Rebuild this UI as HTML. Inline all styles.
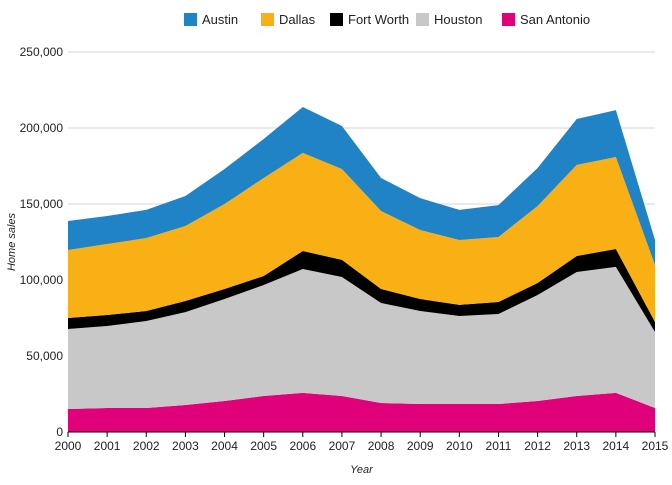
<!DOCTYPE html>
<html><head><meta charset="utf-8"><style>
body{margin:0;background:#fff;font-family:"Liberation Sans",sans-serif;}
svg text{font-family:"Liberation Sans",sans-serif;}
</style></head><body>
<svg id="chart" width="672" height="480"></svg>
<script>
const years=[2000,2001,2002,2003,2004,2005,2006,2007,2008,2009,2010,2011,2012,2013,2014,2015];
const seriesNames=["San Antonio","Houston","Fort Worth","Dallas","Austin"];
const sanAntonio=[15100,15800,15800,17800,20400,23700,25700,23700,19100,18400,18400,18400,20400,23700,25700,15800];
const houston=[52700,53900,57200,61100,67100,73000,81500,78300,65800,61200,57900,59200,69700,81600,82900,50000];
const fortWorth=[7200,7300,6600,7300,6600,5900,11900,11200,9200,7900,7300,7900,7900,10500,11800,6600];
const dallas=[44700,46700,48000,49300,55900,64500,64500,59800,51300,45400,42700,42800,50700,59900,60500,37500];
const austin=[19100,18400,18500,19800,23000,25700,30200,28300,21700,21000,19800,21000,25000,30200,30900,16400];
const yTicks=[0,50000,100000,150000,200000,250000];
const legendNames=["Austin","Dallas","Fort Worth","Houston","San Antonio"];
const colors={"Austin":"#1f83c6","Dallas":"#f9b014","Fort Worth":"#000000","Houston":"#c8c8c8","San Antonio":"#e0007a"};

const NS="http://www.w3.org/2000/svg";
const svg=document.getElementById('chart');
const L=68,R=655,T=52,B=432,YMAX=250000;
const x=i=>L+(years[i]-years[0])/(years[years.length-1]-years[0])*(R-L);
const y=v=>B-v/YMAX*(B-T);
function el(tag,attrs,parent){const e=document.createElementNS(NS,tag);for(const k in attrs)e.setAttribute(k,attrs[k]);(parent||svg).appendChild(e);return e;}

yTicks.forEach(t=>{
  const g=el('line',{x1:L,x2:R,y1:y(t),y2:y(t),stroke:'#d6d6d6','stroke-width':1});
  
  
  const lb=el('text',{x:L-5,y:y(t)+4,'text-anchor':'end','font-size':12,fill:'#222'});
  lb.textContent=t.toLocaleString('en-US');
  
  
});

const data=[sanAntonio,houston,fortWorth,dallas,austin];
let base=years.map(()=>0);
data.forEach((arr,si)=>{
  const top=base.map((b,i)=>b+arr[i]);
  let d='M'+years.map((_,i)=>x(i)+','+y(top[i])).join('L');
  for(let i=years.length-1;i>=0;i--)d+='L'+x(i)+','+y(base[i]);
  d+='Z';
  const p=el('path',{d:d,fill:colors[seriesNames[si]]});
  
  
  base=top;
});

const ax=el('line',{x1:L,x2:R,y1:B,y2:B,stroke:'#000','stroke-width':1});


years.forEach((yr,i)=>{
  const tk=el('line',{x1:x(i),x2:x(i),y1:B,y2:B+5,stroke:'#000'});
  
  
  const lb=el('text',{x:x(i),y:B+18,'text-anchor':'middle','font-size':12,fill:'#222'});
  lb.textContent=yr;
  
  
});

const xt=el('text',{x:(L+R)/2,y:473,'text-anchor':'middle','font-size':11,'font-style':'italic',fill:'#222'});
xt.textContent='Year';


const yt=el('text',{x:0,y:0,'text-anchor':'middle','font-size':11,'font-style':'italic',fill:'#222',transform:'translate(15,242) rotate(-90)'});
yt.textContent='Home sales';



const lx=[184,261,330,416,502];
legendNames.forEach((n,i)=>{
  const g=el('g',{});
  
  
  el('rect',{x:lx[i],y:13,width:13,height:13,fill:colors[n]},g);
  const t=el('text',{x:lx[i]+18,y:24,'font-size':13,fill:'#222'},g);
  t.textContent=n;
});
</script>
</body></html>
